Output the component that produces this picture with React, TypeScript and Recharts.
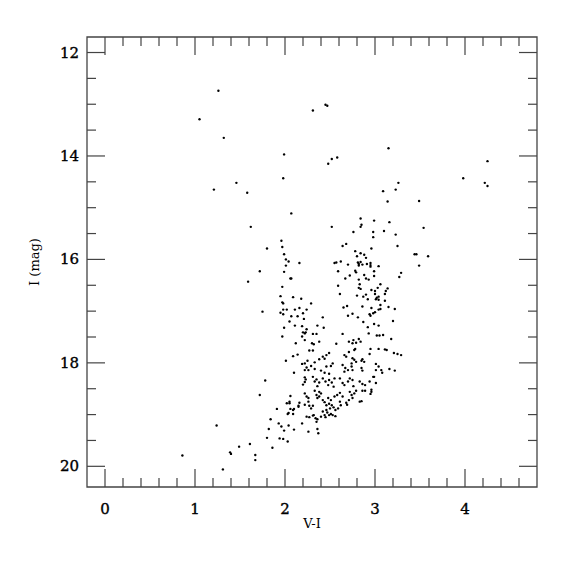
import { ScatterChart, Scatter, XAxis, YAxis, ReferenceArea } from "recharts";

// V-I colour vs I magnitude
const fieldStars: [number, number][] = [
  [1.26, 12.74], [2.45, 13.01], [2.47, 13.03], [2.31, 13.12], [1.05, 13.29], [1.32, 13.65],
  [3.15, 13.85], [1.99, 13.97], [2.52, 14.06], [2.58, 14.03], [2.48, 14.15], [4.25, 14.1],
  [1.98, 14.43], [3.98, 14.43], [1.46, 14.52], [4.22, 14.52], [4.25, 14.58], [3.26, 14.52],
  [3.23, 14.65], [3.09, 14.68], [1.21, 14.65], [1.58, 14.71], [3.14, 14.88], [3.49, 14.87],
  [2.07, 15.11], [1.62, 15.37], [2.52, 15.37], [3.54, 15.39], [3.44, 15.9], [3.46, 15.9],
  [3.59, 15.94], [3.49, 16.12],
];

const blueBranch: [number, number][] = [
  [1.96, 15.64], [1.97, 15.76], [1.8, 15.79], [1.99, 15.9], [2.01, 16.0], [2.04, 16.04],
  [2.16, 16.07], [2.01, 16.12], [1.72, 16.23], [1.99, 16.24], [2.06, 16.37], [2.07, 16.37],
  [1.59, 16.43], [1.97, 16.53], [1.95, 16.71], [2.09, 16.73], [2.18, 16.76], [1.97, 16.83],
  [1.98, 16.85], [2.29, 16.85], [1.75, 17.01], [1.98, 16.97], [2.02, 16.97], [1.95, 17.03],
  [1.98, 17.06], [2.11, 16.97], [2.16, 16.94], [2.24, 16.97], [2.2, 17.04], [2.07, 17.1],
  [2.14, 17.1], [2.21, 17.15], [2.05, 17.2], [2.11, 17.28], [2.19, 17.29], [1.99, 17.32],
  [2.24, 17.35], [2.2, 17.41], [2.23, 17.41], [2.42, 17.12], [2.36, 17.28], [2.43, 17.32],
  [1.97, 17.49], [2.22, 17.43], [2.19, 17.49], [2.22, 17.56],
];

const redBranch: [number, number][] = [
  [2.84, 15.21], [2.85, 15.33], [2.84, 15.37], [2.99, 15.25], [3.16, 15.28], [2.76, 15.47],
  [2.98, 15.47], [2.98, 15.57], [3.1, 15.45], [3.23, 15.52], [3.25, 15.74], [2.64, 15.74],
  [2.68, 15.7], [2.78, 15.84], [2.84, 15.88], [2.8, 15.94], [2.88, 15.91], [2.9, 15.97],
  [2.96, 15.79], [2.62, 16.04], [2.55, 16.07], [2.57, 16.06], [2.7, 16.1], [2.81, 16.06],
  [2.82, 16.09], [2.84, 16.05], [2.86, 16.1], [2.82, 16.12], [2.95, 16.07], [2.95, 16.11],
  [2.95, 16.14], [2.91, 16.09], [3.04, 16.13], [2.59, 16.23], [2.78, 16.22], [2.79, 16.25],
  [2.99, 16.23], [3.29, 16.26], [3.27, 16.34], [2.88, 16.3], [2.9, 16.37], [2.93, 16.39],
  [2.72, 16.31], [2.67, 16.37], [2.99, 16.32], [2.82, 16.39], [2.83, 16.48], [2.82, 16.55],
  [2.84, 16.57], [3.06, 16.48], [2.59, 16.51], [3.03, 16.55], [2.96, 16.59], [3.14, 16.56],
  [3.12, 16.61], [3.11, 16.67], [3.0, 16.61], [3.0, 16.67], [3.02, 16.74], [3.04, 16.72],
  [3.01, 16.77], [3.04, 16.78], [2.61, 16.67], [2.8, 16.7], [2.9, 16.68], [2.92, 16.77],
  [2.87, 16.72], [3.11, 16.8], [2.65, 16.93], [2.69, 16.9], [2.86, 16.91], [2.96, 16.94],
  [2.94, 17.06], [2.95, 17.09], [2.98, 17.04], [3.0, 17.02], [3.06, 16.88], [3.04, 16.97],
  [3.06, 16.96], [3.15, 16.92], [3.22, 16.96], [2.75, 17.05], [2.7, 17.09], [2.81, 17.12],
  [2.87, 17.21], [2.92, 17.31], [2.99, 17.25], [3.04, 17.28], [3.2, 17.19],
];

const subgiants: [number, number][] = [
  [2.31, 17.44], [2.35, 17.44], [2.64, 17.44], [2.93, 17.43], [3.02, 17.47], [3.05, 17.47],
  [3.09, 17.46], [3.18, 17.54], [2.76, 17.56], [2.82, 17.54], [2.84, 17.59], [2.79, 17.61],
  [2.71, 17.59], [2.75, 17.62], [2.38, 17.59], [2.3, 17.62], [2.32, 17.64], [2.57, 17.63],
  [2.12, 17.62], [2.77, 17.75], [2.78, 17.73], [2.95, 17.73], [3.04, 17.73], [3.11, 17.74],
  [3.13, 17.75], [2.27, 17.76], [2.31, 17.76], [2.71, 17.79], [2.94, 17.83], [3.21, 17.81],
  [3.25, 17.83], [3.29, 17.85], [2.46, 17.85], [2.49, 17.81], [2.66, 17.85], [2.68, 17.88],
  [2.42, 17.88], [2.38, 17.93], [2.44, 17.92], [2.75, 17.91], [2.77, 17.94], [2.86, 17.93],
  [2.85, 17.96], [2.09, 17.87], [2.14, 17.84], [2.01, 17.96], [2.25, 17.96], [2.19, 18.02],
  [2.22, 18.01], [2.53, 18.01], [2.51, 18.06], [2.33, 17.99], [2.29, 18.06], [2.24, 18.09],
  [2.22, 18.14], [2.26, 18.14], [2.33, 18.12], [2.46, 18.07], [2.4, 18.15], [2.44, 18.19],
  [2.49, 18.21], [2.64, 18.04], [2.67, 18.1], [2.66, 18.17], [2.7, 18.14], [2.74, 18.07],
  [2.75, 18.14], [2.85, 18.1], [2.86, 18.15], [2.74, 18.01], [2.79, 17.98], [2.88, 17.98],
  [3.01, 18.02], [3.04, 18.07], [3.07, 18.14], [3.08, 18.19], [3.01, 18.14], [2.98, 18.27],
  [3.16, 18.12], [3.22, 18.15], [2.1, 18.19], [2.22, 18.28], [2.23, 18.32], [1.78, 18.34],
  [2.22, 18.37], [2.2, 18.42], [2.31, 18.27], [2.33, 18.36], [2.35, 18.32], [2.38, 18.38],
  [2.36, 18.45], [2.42, 18.3], [2.45, 18.36], [2.48, 18.43], [2.49, 18.33], [2.52, 18.38],
  [2.55, 18.3], [2.54, 18.46], [2.61, 18.3], [2.64, 18.39], [2.66, 18.43], [2.7, 18.36],
  [2.72, 18.3], [2.75, 18.33], [2.76, 18.45], [2.83, 18.36], [2.86, 18.41], [2.89, 18.43],
  [2.94, 18.36], [2.96, 18.52], [2.99, 18.27], [3.01, 18.39],
];

const turnoff: [number, number][] = [
  [1.72, 18.62], [2.06, 18.64], [2.05, 18.75], [2.05, 18.78], [2.02, 18.78], [2.16, 18.77],
  [2.15, 18.83], [2.15, 18.85], [1.91, 18.89], [2.06, 18.89], [2.1, 18.89], [2.22, 18.59],
  [2.24, 18.65], [2.26, 18.68], [2.22, 18.81], [2.09, 18.91], [2.03, 18.99], [2.09, 18.99],
  [0.86, 19.79], [1.24, 19.21], [1.31, 20.06], [1.39, 19.73], [1.4, 19.76], [1.49, 19.62],
  [1.61, 19.57], [1.67, 19.78], [1.67, 19.88], [1.8, 19.45], [1.82, 19.28], [1.86, 19.64],
  [1.84, 19.09], [1.93, 19.17], [1.96, 19.23], [1.99, 19.31], [1.94, 19.46], [1.98, 19.47],
  [2.03, 19.52], [2.04, 18.97], [2.04, 19.21], [2.1, 19.29], [2.19, 19.17], [2.26, 19.33],
  [2.36, 19.28], [2.37, 19.36], [2.26, 18.75], [2.27, 18.83], [2.29, 18.88], [2.31, 18.83],
  [2.24, 19.04], [2.27, 19.05], [2.31, 19.02], [2.34, 19.07], [2.32, 19.01], [2.35, 19.14],
  [2.36, 19.09], [2.33, 18.54], [2.38, 18.56], [2.4, 18.59], [2.35, 18.62], [2.38, 18.65],
  [2.36, 18.68], [2.42, 18.72], [2.44, 18.76], [2.46, 18.82], [2.49, 18.79], [2.51, 18.72],
  [2.48, 18.68], [2.52, 18.82], [2.54, 18.86], [2.5, 18.88], [2.46, 18.91], [2.42, 18.94],
  [2.47, 18.96], [2.49, 19.01], [2.44, 19.01], [2.4, 19.04], [2.45, 19.05], [2.56, 18.91],
  [2.59, 18.88], [2.62, 18.82], [2.61, 18.75], [2.55, 18.65], [2.58, 18.62], [2.61, 18.58],
  [2.64, 18.65], [2.51, 18.99], [2.53, 19.01], [2.56, 19.03], [2.68, 18.77], [2.69, 18.81],
  [2.71, 18.72], [2.74, 18.62], [2.72, 18.56], [2.77, 18.59], [2.79, 18.54], [2.83, 18.75],
  [2.85, 18.74], [2.75, 18.68], [2.86, 18.54], [2.89, 18.54], [2.95, 18.6], [2.96, 18.56],
];

const X_TICKS = [0, 0.2, 0.4, 0.6, 0.8, 1, 1.2, 1.4, 1.6, 1.8, 2, 2.2, 2.4, 2.6, 2.8, 3, 3.2, 3.4, 3.6, 3.8, 4, 4.2, 4.4, 4.6];
const X_LABELS = [0, 1, 2, 3, 4];
const Y_TICKS = [12, 12.5, 13, 13.5, 14, 14.5, 15, 15.5, 16, 16.5, 17, 17.5, 18, 18.5, 19, 19.5, 20];
const Y_LABELS = [12, 14, 16, 18, 20];

const TOP = 37;
const BOTTOM = 487;
const LEFT = 87;
const RIGHT = 537;
const INK = "#444";
const FONT = "'DejaVu Serif', 'Liberation Serif', serif";

const points = [...fieldStars, ...blueBranch, ...redBranch, ...subgiants, ...turnoff].map(([vi, mag]) => ({ vi, mag }));

const XTick = (props: any) => {
  const { x, payload } = props;
  const major = X_LABELS.includes(payload.value);
  const len = major ? 18 : 9;
  return (
    <g>
      <line x1={x} x2={x} y1={BOTTOM} y2={BOTTOM - len} stroke={INK} strokeWidth={1.2} />
      <line x1={x} x2={x} y1={TOP} y2={TOP + len} stroke={INK} strokeWidth={1.2} />
      {major && (
        <text x={x} y={BOTTOM + 27} textAnchor="middle" fontFamily={FONT} fontSize={15} fill="#000" stroke="#000" strokeWidth={0.35}>
          {payload.value}
        </text>
      )}
    </g>
  );
};

const YTick = (props: any) => {
  const { y, payload } = props;
  const major = Y_LABELS.includes(payload.value);
  const len = major ? 18 : 9;
  return (
    <g>
      <line x1={LEFT} x2={LEFT + len} y1={y} y2={y} stroke={INK} strokeWidth={1.2} />
      <line x1={RIGHT} x2={RIGHT - len} y1={y} y2={y} stroke={INK} strokeWidth={1.2} />
      {major && (
        <text x={LEFT - 8} y={y + 5} textAnchor="end" fontFamily={FONT} fontSize={15} fill="#000" stroke="#000" strokeWidth={0.35}>
          {payload.value}
        </text>
      )}
    </g>
  );
};

const XTitle = () => (
  <text x={(LEFT + RIGHT) / 2} y={528} textAnchor="middle" fontFamily={FONT} fontSize={13} fill="#000">
    V-I
  </text>
);

const YTitle = () => (
  <text
    x={39}
    y={(TOP + BOTTOM) / 2}
    transform={`rotate(-90 39 ${(TOP + BOTTOM) / 2})`}
    textAnchor="middle"
    fontFamily={FONT}
    fontSize={13}
    fill="#000"
  >
    I (mag)
  </text>
);

const Dot = (props: any) => <circle cx={props.cx} cy={props.cy} r={1.2} fill="#000" />;

export default function App() {
  return (
    <div style={{ position: "absolute", left: 0, top: 0, background: "#fff" }}>
      <ScatterChart width={575} height={575} margin={{ top: TOP, right: 575 - RIGHT, bottom: 38, left: LEFT - 60 }}>
        <XAxis
          type="number"
          dataKey="vi"
          domain={[-0.2, 4.8]}
          ticks={X_TICKS}
          interval={0}
          height={50}
          tickLine={false}
          axisLine={false}
          tick={<XTick />}
          label={<XTitle />}
          allowDataOverflow
        />
        <YAxis
          type="number"
          dataKey="mag"
          domain={[11.7, 20.4]}
          reversed
          ticks={Y_TICKS}
          interval={0}
          width={60}
          tickLine={false}
          axisLine={false}
          tick={<YTick />}
          label={<YTitle />}
          allowDataOverflow
        />
        <ReferenceArea x1={-0.2} x2={4.8} y1={11.7} y2={20.4} fill="none" stroke={INK} strokeWidth={1.3} />
        <Scatter data={points} shape={<Dot />} isAnimationActive={false} />
      </ScatterChart>
    </div>
  );
}
